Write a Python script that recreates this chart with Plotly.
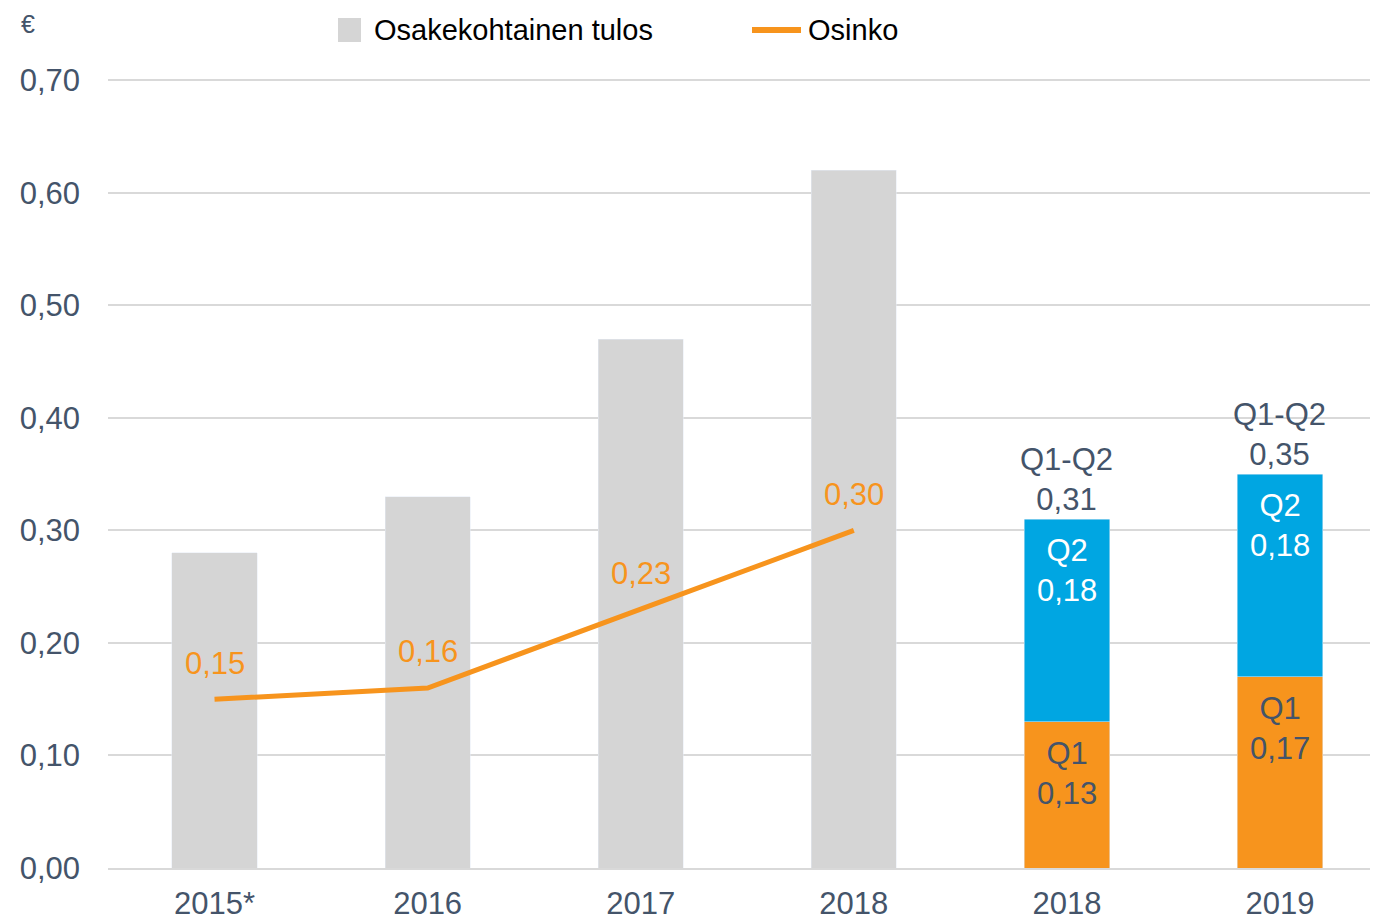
"""Osakekohtainen tulos ja osinko (Plotly)"""
import plotly.graph_objects as go

FONT_FAMILY = "Liberation Sans, Arial, sans-serif"
SLATE = "#44546A"
GREY_BAR = "#D5D5D5"
ORANGE = "#F7941D"
BLUE = "#00A6E2"
GRID = "#D9D9D9"

# data
year_labels = ["2015*", "2016", "2017", "2018", "2018", "2019"]
eps_years = ["2015*", "2016", "2017", "2018"]
eps_values = [0.28, 0.33, 0.47, 0.62]
dividend_values = [0.15, 0.16, 0.23, 0.30]
half_years = ["2018", "2019"]
q1_values = [0.13, 0.17]
q2_values = [0.18, 0.18]

x_all = list(range(len(year_labels)))
x_eps = x_all[:len(eps_years)]
x_half = x_all[len(eps_years):]

# sivun oletusmarginaali (body 8px) huomioidaan
PAGE_OFF = 8
W, H = 1378 - PAGE_OFF, 924 - PAGE_OFF
# piirtoalue sivun pikseleinä
L, T, R, B = 108, 79, 1378, 868


def px_x(p):
    return (p - L) / (R - L)


def px_y(p):
    return (B - p) / (B - T)


def fi(v):
    return f"{v:.2f}".replace(".", ",")


fig = go.Figure()
fig.add_trace(go.Bar(x=x_eps, y=eps_values, name="Osakekohtainen tulos",
                     marker_color=GREY_BAR, width=0.4))
fig.add_trace(go.Bar(x=x_half, y=q1_values, name="Q1", marker_color=ORANGE, width=0.4))
fig.add_trace(go.Bar(x=x_half, y=q2_values, name="Q2", marker_color=BLUE, width=0.4))
fig.add_trace(go.Scatter(x=x_eps, y=dividend_values, mode="lines", name="Osinko",
                         line=dict(color=ORANGE, width=5)))

# osingon arvot viivan yläpuolelle
for x, v in zip(x_eps, dividend_values):
    fig.add_annotation(x=x, y=v, text=fi(v), showarrow=False, yshift=36,
                       yanchor="middle", font=dict(color=ORANGE, size=31))

# kvartaalit pinojen sisään ja summat päälle
for x, a, b in zip(x_half, q1_values, q2_values):
    fig.add_annotation(x=x, y=a, text=f"Q1<br>{fi(a)}", showarrow=False,
                       yanchor="top", yshift=-12, font=dict(color=SLATE, size=31))
    fig.add_annotation(x=x, y=a + b, text=f"Q2<br>{fi(b)}", showarrow=False,
                       yanchor="top", yshift=-12, font=dict(color="white", size=31))
    fig.add_annotation(x=x, y=a + b, text=f"Q1-Q2<br>{fi(a + b)}", showarrow=False,
                       yanchor="bottom", yshift=0, font=dict(color=SLATE, size=31))

fig.add_annotation(xref="paper", yref="paper", x=px_x(28), y=px_y(24), text="€",
                   xanchor="center", yanchor="middle",
                   showarrow=False, font=dict(color=SLATE, size=25))

# selite
fig.add_shape(type="rect", xref="paper", yref="paper", x0=px_x(338), x1=px_x(361),
              y0=px_y(42), y1=px_y(18), fillcolor=GREY_BAR, line_width=0)
fig.add_annotation(xref="paper", yref="paper", x=px_x(372), y=px_y(30),
                   xanchor="left", yanchor="middle", text="Osakekohtainen tulos",
                   showarrow=False, font=dict(color="black", size=29))
fig.add_shape(type="line", xref="paper", yref="paper", x0=px_x(752), x1=px_x(801),
              y0=px_y(30), y1=px_y(30), line=dict(color=ORANGE, width=6))
fig.add_annotation(xref="paper", yref="paper", x=px_x(806), y=px_y(30),
                   xanchor="left", yanchor="middle", text="Osinko",
                   showarrow=False, font=dict(color="black", size=29))

fig.update_layout(
    width=W, height=H,
    font=dict(family=FONT_FAMILY, size=31, color=SLATE),
    margin=dict(l=L - PAGE_OFF, r=1378 - R, t=T - PAGE_OFF, b=924 - B, autoexpand=False),
    plot_bgcolor="white", paper_bgcolor="white",
    barmode="stack", separators=", ",
    showlegend=False,
)
fig.update_xaxes(tickvals=x_all, ticktext=year_labels, range=[-0.5, 5.46],
                 showgrid=False, showline=True, linecolor=GRID, linewidth=2,
                 ticks="", ticklabelstandoff=7, tickfont=dict(color=SLATE, size=31))
fig.update_yaxes(range=[0, 0.7012], tickvals=[0, 0.1, 0.2, 0.3, 0.4, 0.5, 0.6, 0.7],
                 tickformat=".2f", showgrid=True,
                 gridcolor=GRID, gridwidth=2, zeroline=False, ticks="",
                 ticklabelstandoff=27, tickfont=dict(color=SLATE, size=31))

fig.write_html("out.html")
